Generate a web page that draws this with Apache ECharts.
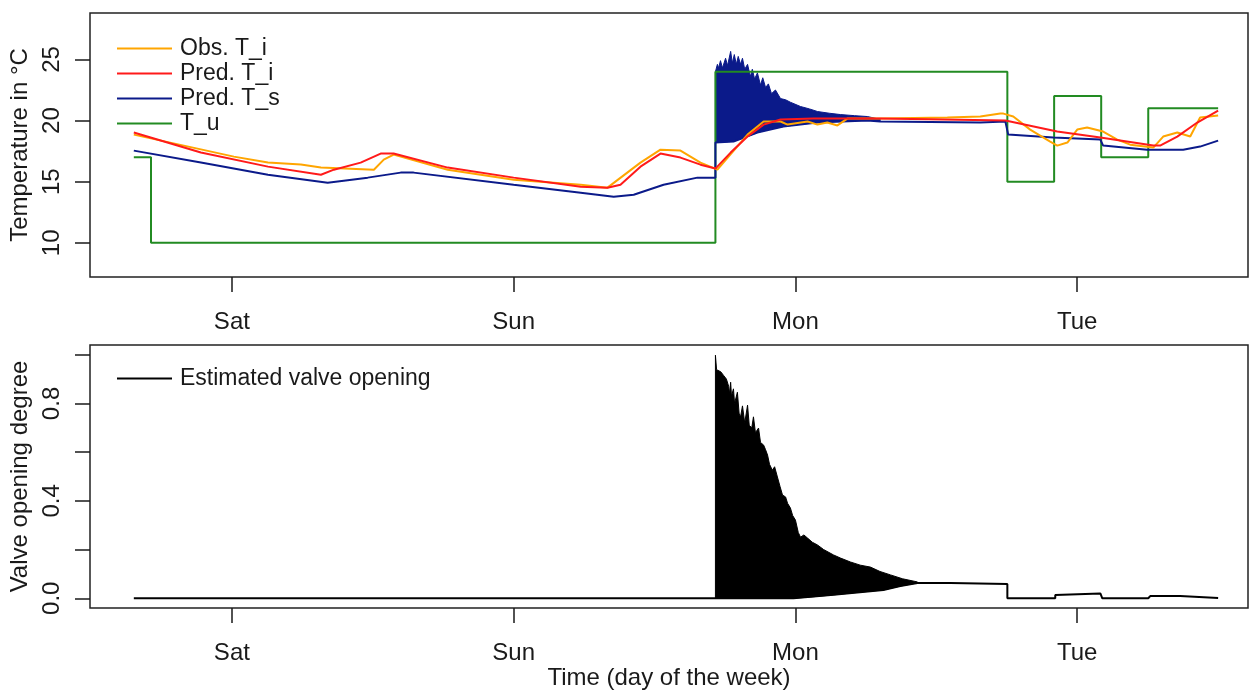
<!DOCTYPE html>
<html>
<head>
<meta charset="utf-8">
<script src="https://cdn.jsdelivr.net/npm/echarts@6/dist/echarts.min.js"></script>
<style>
  html, body { margin: 0; padding: 0; background: #fff; }
  #chart { width: 1250px; height: 691px; }
</style>
</head>
<body>
<div id="chart"></div>
<script>
// time in days, 0 = Sat tick
var dayNames = ['Sat', 'Sun', 'Mon', 'Tue'];
var dayTicks = [0, 1, 2, 3];
var tempTicks = [10, 15, 20, 25];
var valveTicks = [0, 0.2, 0.4, 0.6, 0.8, 1.0];
var valveLabels = [0, 0.4, 0.8];

// observed indoor temperature
var obsTi = [
  [-0.348, 18.85], [0.007, 17.05], [0.128, 16.56], [0.245, 16.4], [0.316, 16.15],
  [0.504, 15.98], [0.539, 16.8], [0.574, 17.21], [0.766, 15.98], [1.0, 15.16],
  [1.238, 14.75], [1.333, 14.51], [1.45, 16.56], [1.521, 17.62], [1.592, 17.54],
  [1.663, 16.56], [1.723, 15.98], [1.83, 18.85], [1.887, 19.92], [1.947, 19.92],
  [1.972, 19.67], [2.043, 19.92], [2.078, 19.67], [2.113, 19.84], [2.149, 19.6],
  [2.184, 20.16], [2.301, 20.16], [2.539, 20.25], [2.656, 20.33], [2.727, 20.57],
  [2.738, 20.57], [2.773, 20.33], [2.833, 19.26], [2.904, 18.28], [2.929, 17.95],
  [2.965, 18.2], [3.0, 19.26], [3.035, 19.43], [3.092, 19.1], [3.142, 18.44],
  [3.188, 18.03], [3.27, 17.79], [3.305, 18.69], [3.355, 19.02], [3.401, 18.69],
  [3.436, 20.25], [3.5, 20.41]
];

// predicted indoor temperature
var predTi = [
  [-0.348, 19.02], [-0.11, 17.38], [0.128, 16.23], [0.316, 15.57], [0.362, 15.98],
  [0.457, 16.56], [0.528, 17.3], [0.574, 17.3], [0.766, 16.15], [1.0, 15.33],
  [1.238, 14.59], [1.333, 14.51], [1.379, 14.75], [1.45, 16.23], [1.521, 17.3],
  [1.592, 16.97], [1.663, 16.39], [1.716, 16.07], [1.77, 17.38], [1.83, 18.69],
  [1.887, 19.67], [1.947, 20.08], [2.064, 20.16], [2.301, 20.16], [2.745, 20.0],
  [2.762, 19.92], [2.929, 19.1], [3.082, 18.61], [3.27, 17.95], [3.294, 17.95],
  [3.355, 18.69], [3.426, 19.84], [3.5, 20.82]
];

// predicted supply temperature (outside the oscillating part)
var predTs = [
  [-0.348, 17.54], [-0.11, 16.56], [0.128, 15.57], [0.34, 14.92], [0.482, 15.33],
  [0.599, 15.74], [0.645, 15.74], [1.0, 14.75], [1.238, 14.1], [1.355, 13.77],
  [1.426, 13.93], [1.532, 14.75], [1.652, 15.33], [1.716, 15.33], [1.716, 18.2],
  [1.78, 18.28], [1.865, 19.02], [1.957, 19.51], [2.078, 19.84], [2.255, 20.0],
  [2.301, 19.92], [2.656, 19.84], [2.745, 19.92], [2.752, 19.92], [2.755, 18.85],
  [2.915, 18.61], [2.918, 18.5], [3.082, 18.44], [3.092, 17.95], [3.248, 17.62],
  [3.376, 17.62], [3.436, 17.87], [3.5, 18.36]
];
// oscillation band of the supply temperature
var tsUpper = [
  [1.716, 24.0], [1.723, 24.6], [1.727, 24.3], [1.734, 24.9], [1.741, 24.3],
  [1.752, 25.1], [1.759, 24.5], [1.77, 25.66], [1.776, 24.7], [1.783, 25.4],
  [1.79, 24.6], [1.797, 25.25], [1.805, 24.6], [1.812, 25.1], [1.82, 24.2],
  [1.83, 24.6], [1.84, 23.6], [1.847, 24.2], [1.855, 23.4], [1.865, 23.9],
  [1.876, 22.9], [1.884, 23.5], [1.894, 22.7], [1.904, 23.0], [1.915, 22.2],
  [1.929, 22.5], [1.947, 21.8], [1.965, 21.7], [1.982, 21.5], [2.018, 21.15],
  [2.05, 20.95], [2.078, 20.74], [2.12, 20.6], [2.16, 20.49], [2.21, 20.4],
  [2.255, 20.33], [2.301, 20.1]
];
var tsLower = [
  [1.716, 18.2], [1.745, 18.25], [1.78, 18.3], [1.83, 18.7], [1.865, 19.02],
  [1.91, 19.3], [1.957, 19.51], [2.02, 19.7], [2.078, 19.84], [2.16, 19.95],
  [2.255, 20.0], [2.301, 20.0]
];

// set point temperature T_u (step changes)
var tuTimes = [-0.348, -0.287, 1.716, 2.752, 2.918, 3.085, 3.252, 3.5];
var tuLevels = [17, 10, 24, 15, 22, 17, 21, 21];

// valve opening
var valveLine = [
  [-0.348, 0], [1.716, 0], [1.993, 0], [2.135, 0.014], [2.312, 0.034],
  [2.372, 0.05], [2.433, 0.063], [2.55, 0.063], [2.752, 0.059], [2.752, 0],
  [2.922, 0], [2.922, 0.013], [3.082, 0.02], [3.089, 0], [3.252, 0],
  [3.259, 0.009], [3.365, 0.009], [3.5, 0.001]
];
var valveUpper = [
  [1.716, 0], [1.716, 0.998], [1.72, 0.94], [1.723, 0.937], [1.735, 0.93],
  [1.745, 0.915], [1.755, 0.9], [1.763, 0.87], [1.766, 0.84], [1.77, 0.887],
  [1.773, 0.83], [1.78, 0.86], [1.784, 0.8], [1.794, 0.846], [1.8, 0.76],
  [1.805, 0.744], [1.812, 0.79], [1.82, 0.72], [1.83, 0.793], [1.836, 0.71],
  [1.845, 0.7], [1.851, 0.745], [1.858, 0.68], [1.869, 0.699], [1.876, 0.64],
  [1.887, 0.629], [1.894, 0.61], [1.901, 0.588], [1.908, 0.55], [1.918, 0.526],
  [1.926, 0.54], [1.936, 0.498], [1.945, 0.46], [1.954, 0.424], [1.965, 0.416],
  [1.972, 0.39], [1.982, 0.371], [1.99, 0.34], [2.0, 0.321], [2.01, 0.27],
  [2.018, 0.251], [2.03, 0.26], [2.043, 0.247], [2.06, 0.23], [2.078, 0.219],
  [2.1, 0.2], [2.135, 0.178], [2.16, 0.165], [2.195, 0.149], [2.23, 0.136],
  [2.266, 0.128], [2.3, 0.11], [2.337, 0.096], [2.38, 0.08], [2.433, 0.067]
];
var valveLower = [
  [1.716, 0], [1.993, 0], [2.06, 0.006], [2.135, 0.014], [2.22, 0.024],
  [2.312, 0.034], [2.372, 0.05], [2.433, 0.063]
];

var FONT = '"Liberation Sans", Arial, Helvetica, sans-serif';
var INK = '#1a1a1a';

function band(upper, lower, color) {
  return function (params, api) {
    if (params.dataIndex !== 0) return null;
    var pts = upper.concat(lower.slice().reverse()).map(function (p) { return api.coord(p); });
    return {
      type: 'polygon',
      shape: { points: pts },
      style: { fill: color, stroke: color, lineWidth: 1 }
    };
  };
}

function xAxisCfg(idx, withName) {
  var a = {
    type: 'value', gridIndex: idx, min: -0.5035, max: 3.606,
    axisLine: { show: false, onZero: false },
    splitLine: { show: false },
    axisTick: { customValues: dayTicks, length: 15, lineStyle: { color: INK, width: 1.5 } },
    axisLabel: {
      customValues: dayTicks, margin: 33, fontSize: 24, color: INK, fontFamily: FONT,
      formatter: function (v) { return dayNames[Math.round(v)]; }
    }
  };
  if (withName) {
    a.name = 'Time (day of the week)';
    a.nameLocation = 'middle';
    a.nameGap = 58;
    a.nameTextStyle = { fontSize: 24, color: INK, fontFamily: FONT };
  }
  return a;
}

function yAxisCfg(idx, name, min, max, ticks, labels, fmt) {
  return {
    type: 'value', gridIndex: idx, min: min, max: max,
    name: name, nameLocation: 'middle', nameGap: 50,
    nameTextStyle: { fontSize: 24, color: INK, fontFamily: FONT },
    axisLine: { show: false, onZero: false }, splitLine: { show: false },
    axisTick: { customValues: ticks, length: 15, lineStyle: { color: INK, width: 1.5 } },
    axisLabel: {
      customValues: labels, rotate: 90, margin: 26, fontSize: 24, color: INK, fontFamily: FONT,
      formatter: fmt
    }
  };
}

var legendBase = {
  orient: 'vertical', left: 117, padding: 0, icon: 'rect',
  itemWidth: 55, itemHeight: 2, itemGap: 2,
  textStyle: { fontSize: 23, color: INK, fontFamily: FONT, lineHeight: 23, padding: [0, 0, 0, 3] }
};

var ec = echarts.init(document.getElementById('chart'));
var option = {
  animation: false,
  textStyle: { fontFamily: FONT },
  grid: [
    { left: 90, top: 13, width: 1158, height: 264, show: true, borderColor: '#222', borderWidth: 1.5 },
    { left: 90, top: 345, width: 1158, height: 263, show: true, borderColor: '#222', borderWidth: 1.5 }
  ],
  legend: [
    Object.assign({}, legendBase, { data: ['Obs. T_i', 'Pred. T_i', 'Pred. T_s', 'T_u'], top: 37 }),
    Object.assign({}, legendBase, { data: ['Estimated valve opening'], top: 367 })
  ],
  xAxis: [xAxisCfg(0, false), xAxisCfg(1, true)],
  yAxis: [
    yAxisCfg(0, 'Temperature in °C', 7.2, 28.8, tempTicks, tempTicks, function (v) { return String(v); }),
    yAxisCfg(1, 'Valve opening degree', -0.04, 1.04, valveTicks, valveLabels, function (v) { return v.toFixed(1); })
  ],
  series: [
    {
      name: 'T_u', type: 'line', step: 'end', xAxisIndex: 0, yAxisIndex: 0,
      data: tuTimes.map(function (t, i) { return [t, tuLevels[i]]; }),
      symbol: 'none', lineStyle: { color: '#228B22', width: 2 }, itemStyle: { color: '#228B22' }
    },
    {
      type: 'custom', xAxisIndex: 0, yAxisIndex: 0, silent: true,
      data: tsUpper, renderItem: band(tsUpper, tsLower, '#0b1a8a')
    },
    {
      name: 'Pred. T_s', type: 'line', xAxisIndex: 0, yAxisIndex: 0, data: predTs,
      symbol: 'none', lineStyle: { color: '#0b1a8a', width: 2 }, itemStyle: { color: '#0b1a8a' }
    },
    {
      name: 'Obs. T_i', type: 'line', xAxisIndex: 0, yAxisIndex: 0, data: obsTi,
      symbol: 'none', lineStyle: { color: '#FFA500', width: 2 }, itemStyle: { color: '#FFA500' }
    },
    {
      name: 'Pred. T_i', type: 'line', xAxisIndex: 0, yAxisIndex: 0, data: predTi,
      symbol: 'none', lineStyle: { color: '#FF1a1a', width: 2 }, itemStyle: { color: '#FF1a1a' }
    },
    {
      type: 'custom', xAxisIndex: 1, yAxisIndex: 1, silent: true,
      data: valveUpper, renderItem: band(valveUpper, valveLower, '#000')
    },
    {
      name: 'Estimated valve opening', type: 'line', xAxisIndex: 1, yAxisIndex: 1, data: valveLine,
      symbol: 'none', lineStyle: { color: '#000', width: 2 }, itemStyle: { color: '#000' }
    }
  ]
};
ec.setOption(option);
</script>
</body>
</html>
